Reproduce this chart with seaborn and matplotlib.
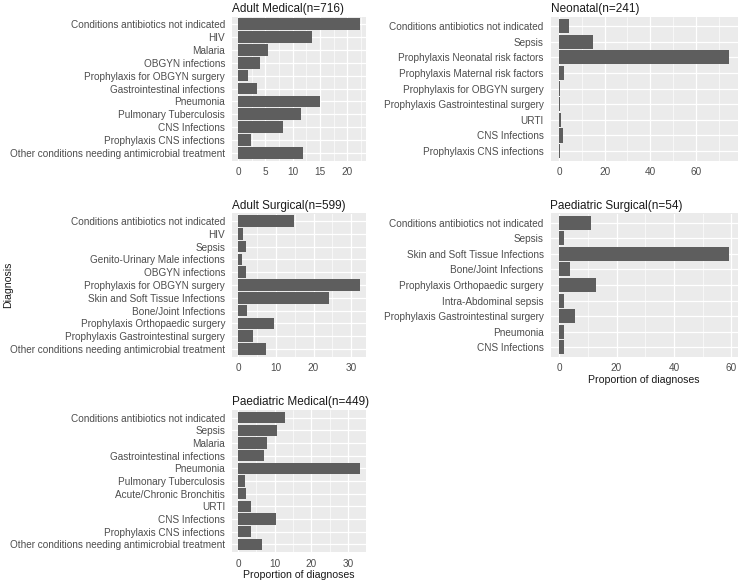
import pandas as pd
import matplotlib
matplotlib.use("Agg")
import matplotlib.pyplot as plt
import seaborn as sns
from matplotlib.ticker import MultipleLocator

# -----------------------------
# DATA (percent of diagnoses per ward)
# -----------------------------
adult_medical_dx = ["Conditions antibiotics not indicated", "HIV", "Malaria", "OBGYN infections",
                    "Prophylaxis for OBGYN surgery", "Gastrointestinal infections", "Pneumonia",
                    "Pulmonary Tuberculosis", "CNS Infections", "Prophylaxis CNS infections",
                    "Other conditions needing antimicrobial treatment"]
adult_medical_pct = [22.3, 13.5, 5.4, 4.1, 1.8, 3.4, 15.0, 11.5, 8.2, 2.3, 11.9]

neonatal_dx = ["Conditions antibiotics not indicated", "Sepsis", "Prophylaxis Neonatal risk factors",
               "Prophylaxis Maternal risk factors", "Prophylaxis for OBGYN surgery",
               "Prophylaxis Gastrointestinal surgery", "URTI", "CNS Infections",
               "Prophylaxis CNS infections"]
neonatal_pct = [4.3, 14.9, 74.7, 2.1, 0.4, 0.4, 0.8, 1.7, 0.4]

adult_surgical_dx = ["Conditions antibiotics not indicated", "HIV", "Sepsis", "Genito-Urinary Male infections",
                     "OBGYN infections", "Prophylaxis for OBGYN surgery", "Skin and Soft Tissue Infections",
                     "Bone/Joint Infections", "Prophylaxis Orthopaedic surgery",
                     "Prophylaxis Gastrointestinal surgery", "Other conditions needing antimicrobial treatment"]
adult_surgical_pct = [14.7, 1.2, 2.2, 1.0, 2.2, 32.3, 24.1, 2.3, 9.4, 3.9, 7.3]

paed_surgical_dx = ["Conditions antibiotics not indicated", "Sepsis", "Skin and Soft Tissue Infections",
                    "Bone/Joint Infections", "Prophylaxis Orthopaedic surgery", "Intra-Abdominal sepsis",
                    "Prophylaxis Gastrointestinal surgery", "Pneumonia", "CNS Infections"]
paed_surgical_pct = [11.1, 1.85, 59.3, 3.7, 13.0, 1.85, 5.56, 1.85, 1.85]

paed_medical_dx = ["Conditions antibiotics not indicated", "Sepsis", "Malaria", "Gastrointestinal infections",
                   "Pneumonia", "Pulmonary Tuberculosis", "Acute/Chronic Bronchitis", "URTI",
                   "CNS Infections", "Prophylaxis CNS infections",
                   "Other conditions needing antimicrobial treatment"]
paed_medical_pct = [12.9, 10.6, 7.9, 7.1, 33.2, 2.0, 2.2, 3.5, 10.2, 3.5, 6.4]

# -----------------------------
# STYLE (ggplot-like grey theme)
# -----------------------------
sns.set_style("darkgrid", {"axes.facecolor": "#EBEBEB", "grid.color": "white"})
plt.rcParams['font.family'] = ['Liberation Sans', 'DejaVu Sans']

fig = plt.figure(figsize=(7.42, 5.81), dpi=100)
W, H = 742, 581


def rect(left, top, right, bottom):
    return [left / W, 1 - bottom / H, (right - left) / W, (bottom - top) / H]


def panel(box, title, dx, pct, step, xlabel=None):
    ax = fig.add_axes(box)
    df = pd.DataFrame({"Diagnosis": dx, "Proportion": pct})
    sns.barplot(data=df, x="Proportion", y="Diagnosis", color="#5E5E5E", saturation=1,
                width=0.9, linewidth=0, ax=ax)
    top = max(pct)
    ax.set_xlim(-0.05 * top, 1.05 * top)
    ax.set_ylim(len(dx) - 0.4, -0.6)
    ax.xaxis.set_major_locator(MultipleLocator(step))
    ax.xaxis.set_minor_locator(MultipleLocator(step / 2))
    ax.set_axisbelow(True)
    ax.grid(which="major", color="white", linewidth=0.9)
    ax.grid(which="minor", axis="x", color="white", linewidth=0.45)
    for s in ax.spines.values():
        s.set_visible(False)
    ax.tick_params(axis="both", which="major", length=2.75, width=0.6, color="#333333",
                   labelsize=7.2, labelcolor="#4D4D4D", pad=2.2)
    ax.tick_params(axis="both", which="minor", length=0)
    ax.set_ylabel("")
    if xlabel:
        ax.set_xlabel(xlabel, fontsize=7.6, color="#1A1A1A", labelpad=1)
    else:
        ax.set_xlabel("")
    ax.set_title(title, loc="left", fontsize=8.5, color="#1A1A1A", pad=3.5)
    return ax


panel(rect(232, 16.5, 366, 160.5), "Adult Medical(n=716)", adult_medical_dx, adult_medical_pct, 5)
panel(rect(550.5, 16.5, 738, 160.5), "Neonatal(n=241)", neonatal_dx, neonatal_pct, 20)
panel(rect(232, 213.5, 366, 356.5), "Adult Surgical(n=599)", adult_surgical_dx, adult_surgical_pct, 10)
panel(rect(550.5, 213.5, 738, 356.5), "Paediatric Surgical(n=54)", paed_surgical_dx, paed_surgical_pct, 20,
      xlabel="Proportion of diagnoses")
panel(rect(232, 410, 366, 552), "Paediatric Medical(n=449)", paed_medical_dx, paed_medical_pct, 10,
      xlabel="Proportion of diagnoses")

fig.text(0.011, 0.509, "Diagnosis", rotation=90, ha="center", va="center", fontsize=7.6, color="#1A1A1A")

fig.savefig("out.png", dpi=100)
